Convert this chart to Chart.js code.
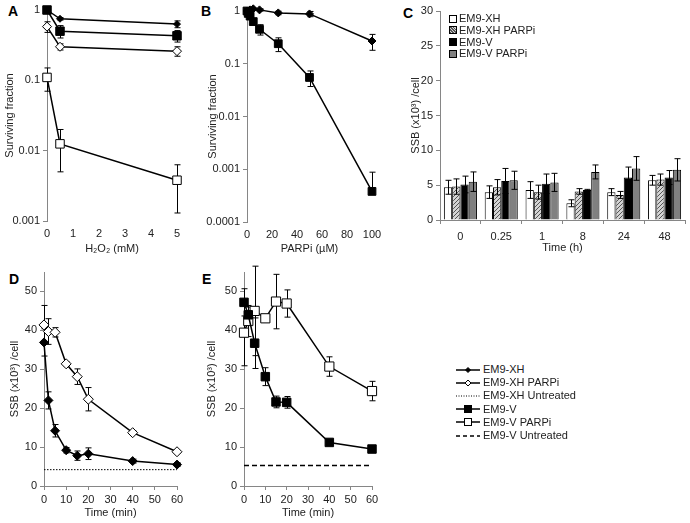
<!DOCTYPE html>
<html>
<head>
<meta charset="utf-8">
<script src="https://cdn.jsdelivr.net/npm/chart.js@4.4.0/dist/chart.umd.min.js"></script>
<style>
  body{margin:0;background:#fff;width:690px;height:523px;position:relative;overflow:hidden;font-family:"Liberation Sans",Arial,sans-serif;color:#222;}
  canvas{position:absolute;}
  .letter{position:absolute;font:bold 14px "Liberation Sans",Arial,sans-serif;color:#000;}
  .leg{position:absolute;font-size:11px;white-space:nowrap;}
  .leg .row{position:absolute;left:0;height:13px;line-height:13px;display:flex;align-items:center;}
  .box{display:inline-block;width:6px;height:6px;border:1px solid #000;margin-right:2px;}
</style>
</head>
<body>
<div class="letter" style="left:8px;top:3px">A</div>
<div class="letter" style="left:201px;top:3px">B</div>
<div class="letter" style="left:403px;top:5px">C</div>
<div class="letter" style="left:9px;top:271px">D</div>
<div class="letter" style="left:202px;top:271px">E</div>

<canvas id="chartA" width="195" height="260" style="left:0;top:0"></canvas>
<canvas id="chartB" width="215" height="260" style="left:195px;top:0"></canvas>
<canvas id="chartC" width="285" height="260" style="left:405px;top:0"></canvas>
<canvas id="chartD" width="195" height="268" style="left:0;top:255px"></canvas>
<canvas id="chartE" width="215" height="268" style="left:195px;top:255px"></canvas>

<div class="leg" id="legC" style="left:449px;top:12px"></div>
<div class="leg" id="legDE" style="left:455px;top:363px"></div>

<script>
// ---- data: panel A (H2O2 survival) ----
const doseA = [0, 0.5, 5];
const xhA = [1, 0.75, 0.63],        xhAerr = [0, 0.03, 0.07];
const xhParpA = [0.58, 0.3, 0.26],  xhParpAerr = [0.1, 0.03, 0.04];
const vA = [1, 0.5, 0.43],          vAerr = [0, 0.1, 0.08];
const vParpA = [0.11, 0.0125, 0.0038], vParpAerr = [0.04, 0.0075, 0.0025];
const logTicksA = [0.001, 0.01, 0.1, 1];

// ---- data: panel B (PARPi survival) ----
const doseB = [0, 1, 2.5, 5, 10, 25, 50, 100];
const xhB = [1, 1, 1.05, 1.1, 1.05, 0.92, 0.88, 0.27], xhBerr = [0, 0, 0, 0.05, 0.05, 0.07, 0.1, 0.09];
const vB = [1, 0.9, 0.8, 0.63, 0.45, 0.24, 0.055, 0.00038], vBerr = [0, 0.05, 0.05, 0.08, 0.1, 0.07, 0.018, 0.0005];
const logTicksB = [0.0001, 0.001, 0.01, 0.1, 1];

// ---- data: panel C (SSB bars) ----
const timesC = ['0', '0.25', '1', '8', '24', '48'];
const cXH = [4.7, 4.0, 4.3, 2.4, 4.0, 5.7],      cXHerr = [1.0, 0.9, 1.2, 0.5, 0.5, 0.7];
const cXHParp = [4.8, 4.7, 4.0, 4.1, 3.6, 5.8],  cXHParpErr = [1.1, 1.1, 1.0, 0.4, 0.5, 0.8];
const cV = [5.1, 5.6, 5.2, 4.3, 6.1, 6.1],       cVerr = [1.2, 1.8, 1.4, 0.1, 1.5, 1.0];
const cVParp = [5.5, 5.7, 5.4, 6.9, 7.4, 7.2],   cVParpErr = [1.4, 1.3, 1.3, 1.0, 1.7, 1.6];

// ---- data: panels D/E (SSB repair) ----
const timeDE = [0, 2, 5, 10, 15, 20, 40, 60];
const xhD = [36.9, 22, 14.2, 9.2, 7.8, 8.3, 6.4, 5.5],        xhDerr = [3.5, 2.2, 1.6, 0.7, 1.2, 1.5, 0.5, 0.5];
const xhParpD = [41.4, 39.7, 39.5, 31.4, 28.1, 22.3, 13.7, 8.8], xhParpDerr = [5, 3.3, 1.2, 0.5, 2, 3, 0.4, 0.3];
const xhUntreated = 4.2;
const vE = [47.2, 44, 36.7, 28.1, 21.6, 21.5, 11.2, 9.5],      vEerr = [3.5, 2, 6.5, 2.3, 1.5, 1.5, 0.3, 0.3];
const vParpE = [39.4, 42.4, 45, 43.1, 47.4, 46.9, 30.7, 24.4], vParpEerr = [8.5, 4, 11.5, 0.8, 7, 3.5, 2.5, 2.5];
const vUntreated = 5.3;
const untreatedSpan = [0, 60];

const AXIS = '#868686', TXT = '#222';
const FONT = {family:'"Liberation Sans", Arial, sans-serif', size:11};
const SSB = 'SSB (x10\u00B3) /cell';

// error bars drawn from dataset.errors through the chart's own scales
const errorBars = {
  id:'errorBars',
  draw(chart){
    const ctx = chart.ctx;
    chart.data.datasets.forEach((ds, di)=>{
      if(!ds.errors) return;
      const meta = chart.getDatasetMeta(di);
      const ys = chart.scales[meta.yAxisID];
      ctx.save();
      ctx.strokeStyle = '#000'; ctx.lineWidth = 1;
      meta.data.forEach((el, i)=>{
        const e = ds.errors[i]; if(!e) return;
        const d = ds.data[i]; const v = typeof d === 'object' ? d.y : d;
        const x = Math.round(el.x) + 0.5;
        const yTop = ys.getPixelForValue(v + e);
        const yMid = ys.getPixelForValue(v);
        const yBot = (ys.type === 'logarithmic' && v - e <= 0) ? yMid : Math.min(ys.getPixelForValue(v - e), chart.chartArea.bottom);
        ctx.beginPath();
        ctx.moveTo(x, yTop); ctx.lineTo(x, yBot);
        ctx.moveTo(x - 3, yTop); ctx.lineTo(x + 3, yTop);
        if(yBot !== yMid){ ctx.moveTo(x - 3, yBot); ctx.lineTo(x + 3, yBot); }
        ctx.stroke();
      });
      ctx.restore();
    });
  },
  beforeDatasetsDraw(chart){ if(chart.config.type !== 'bar') this.draw(chart); },
  afterDatasetsDraw(chart){ if(chart.config.type === 'bar') this.draw(chart); }
};
Chart.register(errorBars);

function xScale(o){
  const lineColor = o.noLine ? 'rgba(0,0,0,0)' : AXIS;
  return {
    type:o.type || 'linear', min:o.min, max:o.max, offset:!!o.offset,
    border:{display:!o.noLine, color:AXIS, width:1},
    grid:{display:true, drawOnChartArea:false, drawTicks:true, tickLength:4, color:lineColor, offset:!!o.offset},
    ticks:{stepSize:o.step, color:TXT, font:FONT, padding:o.lp, maxRotation:0, autoSkip:false, includeBounds:false},
    title:{display:true, text:o.title, color:TXT, font:FONT, padding:{top:0, bottom:o.tp}},
    afterFit:s=>{ s.height = o.h; }
  };
}
function yScale(o){
  const s = {
    type:o.type || 'linear', min:o.min, max:o.max,
    border:{display:true, color:AXIS, width:1},
    grid:{display:true, drawOnChartArea:false, drawTicks:true, tickLength:4, color:AXIS},
    ticks:{stepSize:o.step, color:TXT, font:FONT, padding:3, autoSkip:false, includeBounds:false},
    title:{display:true, text:o.title, color:TXT, font:FONT, padding:{top:o.tp, bottom:0}},
    afterFit:s=>{ s.width = o.w; }
  };
  if(o.ticks){
    s.afterBuildTicks = sc=>{ sc.ticks = o.ticks.map(v=>({value:v})); };
    s.ticks.callback = v=>String(v);
  }
  return s;
}
const pts = (xs, ys)=> xs.map((x, i)=>({x, y:ys[i]}));
function series(xs, ys, errs, style, radius, filled){
  return {
    data:pts(xs, ys), errors:errs,
    borderColor:'#000', borderWidth:1.5, tension:0, clip:false,
    pointStyle:style, pointRadius:radius, pointHoverRadius:radius,
    pointBackgroundColor:filled ? '#000' : '#fff', pointBorderColor:'#000', pointBorderWidth:1
  };
}
function flatLine(value, dash, width){
  return {
    data:pts(untreatedSpan, untreatedSpan.map(()=>value)),
    borderColor:'#000', borderWidth:width, borderDash:dash, pointRadius:0, clip:false
  };
}
const baseOpts = (pad, scales)=>({
  responsive:false, animation:false, events:[],
  layout:{padding:pad},
  plugins:{legend:{display:false}, tooltip:{enabled:false}},
  scales
});

// Panel A
new Chart(document.getElementById('chartA'), {
  type:'line',
  data:{datasets:[
    series(doseA, xhA, xhAerr, 'rectRot', 3.5, true),
    series(doseA, xhParpA, xhParpAerr, 'rectRot', 4.5, false),
    series(doseA, vA, vAerr, 'rect', 6, true),
    series(doseA, vParpA, vParpAerr, 'rect', 6, false)
  ]},
  options:baseOpts({top:10, right:18, left:0, bottom:0}, {
    x:xScale({min:0, max:5, step:1, title:'H\u2082O\u2082 (mM)', h:39, lp:2, tp:4, noLine:true}),
    y:yScale({type:'logarithmic', min:0.001, max:1, ticks:logTicksA, title:'Surviving fraction', w:47, tp:3.5})
  })
});

// Panel B
new Chart(document.getElementById('chartB'), {
  type:'line',
  data:{datasets:[
    series(doseB, xhB, xhBerr, 'rectRot', 4, true),
    series(doseB, vB, vBerr, 'rect', 5.5, true)
  ]},
  options:baseOpts({top:11, right:38, left:0, bottom:0}, {
    x:xScale({min:0, max:100, step:20, title:'PARPi (\u00B5M)', h:38, lp:2, tp:4, noLine:true}),
    y:yScale({type:'logarithmic', min:0.0001, max:1, ticks:logTicksB, title:'Surviving fraction', w:52, tp:11})
  })
});

// Panel C: hatched fill for EM9-XH PARPi
function hatch(){
  const c = document.createElement('canvas'); c.width = 4; c.height = 4;
  const g = c.getContext('2d');
  g.fillStyle = '#d4d4d4'; g.fillRect(0, 0, 4, 4);
  g.fillStyle = '#555';
  g.fillRect(0, 0, 1, 1); g.fillRect(2, 2, 1, 1); g.fillRect(1, 3, 1, 1); g.fillRect(3, 1, 1, 1);
  return g.createPattern(c, 'repeat');
}
const barColors = ['#ffffff', hatch(), '#000000', '#808080'];
const cLabels = ['EM9-XH', 'EM9-XH PARPi', 'EM9-V', 'EM9-V PARPi'];
const cValues = [cXH, cXHParp, cV, cVParp];
const cErrors = [cXHerr, cXHParpErr, cVerr, cVParpErr];
new Chart(document.getElementById('chartC'), {
  type:'bar',
  data:{labels:timesC, datasets:cValues.map((vals, i)=>({
    label:cLabels[i], data:vals, errors:cErrors[i],
    backgroundColor:barColors[i], borderColor:'#000', borderWidth:1,
    categoryPercentage:0.81, barPercentage:1
  }))},
  options:baseOpts({top:11, right:5, left:0, bottom:0}, {
    x:xScale({type:'category', offset:true, title:'Time (h)', h:40, lp:6, tp:5}),
    y:yScale({min:0, max:30, step:5, title:SSB, w:35, tp:4.5})
  })
});

// Panel D
new Chart(document.getElementById('chartD'), {
  type:'line',
  data:{datasets:[
    series(timeDE, xhD, xhDerr, 'rectRot', 4.5, true),
    series(timeDE, xhParpD, xhParpDerr, 'rectRot', 5, false),
    flatLine(xhUntreated, [1.5, 1.5], 1)
  ]},
  options:baseOpts({top:17, right:18, left:0, bottom:0}, {
    x:xScale({min:0, max:60, step:10, title:'Time (min)', h:37, lp:3, tp:3.5}),
    y:yScale({min:0, max:55, step:10, title:SSB, w:44, tp:8.5})
  })
});

// Panel E
new Chart(document.getElementById('chartE'), {
  type:'line',
  data:{datasets:[
    series(timeDE, vE, vEerr, 'rect', 6, true),
    series(timeDE, vParpE, vParpEerr, 'rect', 6.5, false),
    flatLine(vUntreated, [5, 3], 1.5)
  ]},
  options:baseOpts({top:17, right:38, left:0, bottom:0}, {
    x:xScale({min:0, max:60, step:10, title:'Time (min)', h:37, lp:3, tp:3.5}),
    y:yScale({min:0, max:55, step:10, title:SSB, w:49, tp:10})
  })
});

// legend for panel C
const legC = document.getElementById('legC');
const cssFill = ['#fff', 'repeating-linear-gradient(45deg,#555 0 1px,#d4d4d4 1px 2px)', '#000', '#808080'];
cLabels.forEach((lbl, i)=>{
  const r = document.createElement('div');
  r.className = 'row'; r.style.top = (i * 11.8) + 'px';
  r.innerHTML = `<span class="box" style="background:${cssFill[i]}"></span>${lbl}`;
  legC.appendChild(r);
});

// legend for panels D/E
const legDE = document.getElementById('legDE');
const legItems = [
  {label:'EM9-XH', marker:'diamond', fill:'#000'},
  {label:'EM9-XH PARPi', marker:'diamond', fill:'#fff'},
  {label:'EM9-XH Untreated', dash:[1, 1.5], lw:1},
  {label:'EM9-V', marker:'square', fill:'#000'},
  {label:'EM9-V PARPi', marker:'square', fill:'#fff'},
  {label:'EM9-V Untreated', dash:[4, 3], lw:1.5}
];
legItems.forEach((it, i)=>{
  const r = document.createElement('div');
  r.className = 'row'; r.style.top = (i * 13.2) + 'px';
  const c = document.createElement('canvas');
  c.width = 26; c.height = 12; c.style.position = 'static'; c.style.marginRight = '2px';
  const g = c.getContext('2d');
  g.strokeStyle = '#000'; g.lineWidth = it.lw || 1.5; g.setLineDash(it.dash || []);
  g.beginPath(); g.moveTo(1, 6); g.lineTo(25, 6); g.stroke(); g.setLineDash([]);
  g.lineWidth = 1; g.fillStyle = it.fill;
  if(it.marker === 'diamond'){
    const s = it.fill === '#000' ? 2.5 : 3;
    g.beginPath(); g.moveTo(13 - s, 6); g.lineTo(13, 6 - s); g.lineTo(13 + s, 6); g.lineTo(13, 6 + s); g.closePath(); g.fill(); g.stroke();
  } else if(it.marker === 'square'){
    g.fillRect(9.5, 2.5, 7, 7); g.strokeRect(9.5, 2.5, 7, 7);
  }
  r.appendChild(c);
  r.appendChild(document.createTextNode(it.label));
  legDE.appendChild(r);
});
</script>
</body>
</html>
